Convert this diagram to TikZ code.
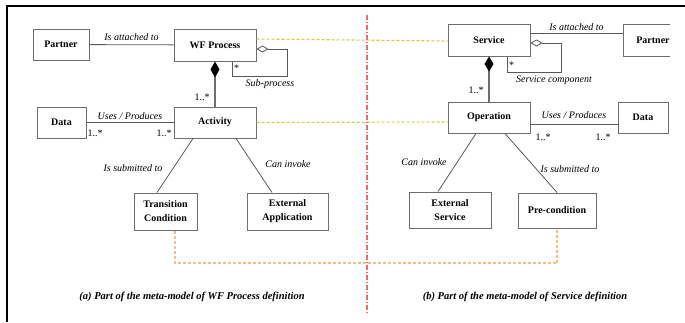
\documentclass[tikz,border=0pt]{standalone}
\usepackage{fontspec}
\setmainfont{Liberation Serif}
\usetikzlibrary{arrows.meta}
\colorlet{boxgray}{black!57}
\colorlet{tracegreen}{olive!60!yellow!65!white}
\colorlet{tracetan}{orange!60!brown!50}
\colorlet{splitred}{red!60}
\begin{document}
\begin{tikzpicture}[x=1pt,y=-1pt,font=\fontsize{10}{12}\selectfont]
\useasboundingbox (0,0) rectangle (685,322);
\tikzstyle{every node} = [draw=boxgray, line width=1pt, align=center, inner sep=1pt, font=\fontsize{10}{14}\selectfont\bfseries]
% left part: WF process
\node[minimum width=56pt, minimum height=31pt] (pl) at (61,44.5) {Partner};
\node[minimum width=82pt, minimum height=32pt] (wf) at (215,45) {WF Process};
\node[minimum width=49pt, minimum height=31pt] (dl) at (61.5,122.5) {Data};
\node[minimum width=82pt, minimum height=31pt] (act) at (215,122.5) {Activity};
\node[minimum width=63pt, minimum height=37pt] (tc) at (165.5,211.5) {Transition\\Condition};
\node[minimum width=81pt, minimum height=37pt] (ea) at (287.5,211.5) {External\\Application};
% right part: service
\node[minimum width=82pt, minimum height=32pt] (svc) at (489,40) {Service};
\node[minimum width=82pt, minimum height=31pt] (op) at (489,117.5) {Operation};
\node[minimum width=50pt, minimum height=31pt] (dr) at (643,117.5) {Data};
\node[minimum width=82pt, minimum height=36pt] (es) at (450,210) {External\\Service};
\node[minimum width=78pt, minimum height=35pt] (pc) at (557,210.5) {Pre-condition};
\begin{scope}
\clip (600,0) rectangle (670,80);
\node[minimum width=60pt, minimum height=32pt] (pr) at (653,40) {Partner};
\end{scope}
\tikzstyle{every node} = [font=\fontsize{10}{12}\selectfont\itshape, inner sep=2pt]
\tikzstyle{assoc} = [draw=boxgray!80!black, line width=0.8pt]
\tikzstyle{trace} = [line width=1.1pt, dash pattern=on 3pt off 2pt]
% associations
\draw[assoc] (pl) -- (wf) node[midway, above, yshift=2pt] {Is attached to};
\draw[assoc, {Diamond[open, length=12pt, width=7pt]}-] ([yshift=-4pt]wf.east) -| (287,76) -| ([xshift=17pt]wf.south);
\node at (236,68) {*};
\node at (270,84) {Sub-process};
\draw[draw=boxgray, line width=1.8pt, -{Diamond[length=16pt, width=9pt, fill=black, color=black]}] (act) -- (wf);
\node[font=\fontsize{10}{12}\selectfont] at (202,97) {1..*};
\draw[assoc] (dl) -- (act) node[midway, above] {Uses / Produces};
\node[font=\fontsize{10}{12}\selectfont] at (95,133) {1..*};
\node[font=\fontsize{10}{12}\selectfont] at (164,133) {1..*};
\draw[assoc] ([xshift=-22pt]act.south) -- ([xshift=-8.5pt]tc.north);
\node at (133,168) {Is submitted to};
\draw[assoc] ([xshift=21pt]act.south) -- ([xshift=-15.5pt]ea.north);
\node at (288,164) {Can invoke};
\draw[assoc] ([yshift=7pt]svc.east) -- ([yshift=7pt]pr.west) node[midway, above] {Is attached to};
\draw[assoc, {Diamond[open, length=12pt, width=7pt]}-] ([yshift=-3pt]svc.east) -| (561,72) -| ([xshift=18pt]svc.south);
\node at (511,65) {*};
\node at (554,80) {Service component};
\draw[draw=boxgray, line width=1.4pt, -{Diamond[length=15pt, width=9pt, fill=black, color=black]}] (op) -- (svc);
\node[font=\fontsize{10}{12}\selectfont] at (476,90) {1..*};
\draw[assoc] ([yshift=-6.5pt]op.east) -- ([yshift=-6.5pt]dr.west) node[midway, above, yshift=3pt] {Uses / Produces};
\node[font=\fontsize{10}{12}\selectfont] at (543,137) {1..*};
\node[font=\fontsize{10}{12}\selectfont] at (603,137) {1..*};
\draw[assoc] ([xshift=-13pt]op.south) -- ([xshift=-12pt]es.north);
\node at (424,162) {Can invoke};
\draw[assoc] ([xshift=16pt]op.south) -- (pc.north);
\node at (570,169) {Is submitted to};
% mapping between the two meta-models
\draw[trace, color=tracegreen] ([yshift=6pt]wf.east) -- ([yshift=-1pt]svc.west);
\draw[trace, color=tracegreen] (act.east) -- ([yshift=-4.5pt]op.west);
\coordinate (low) at (557,263);
\draw[trace, color=tracetan] ([xshift=9.5pt]tc.south) |- (low) -- (pc.south);
% separator and frame
\coordinate (s1) at (367,15);
\coordinate (s2) at (367,313);
\draw[color=splitred, line width=1.2pt, dash pattern=on 5pt off 2pt on 1pt off 2pt] (s1) -- (s2);
\coordinate (f1) at (7,322);
\coordinate (f2) at (7,6);
\coordinate (f3) at (685,6);
\draw[black, line width=2pt] (f1) -- (f2) -- (f3);
% captions
\node[font=\fontsize{10.5}{12}\selectfont\bfseries\itshape] at (192,297) {(a) Part of the meta-model of WF Process definition};
\node[font=\fontsize{10.5}{12}\selectfont\bfseries\itshape] at (525,297) {(b) Part of the meta-model of Service definition};
\end{tikzpicture}
\end{document}
